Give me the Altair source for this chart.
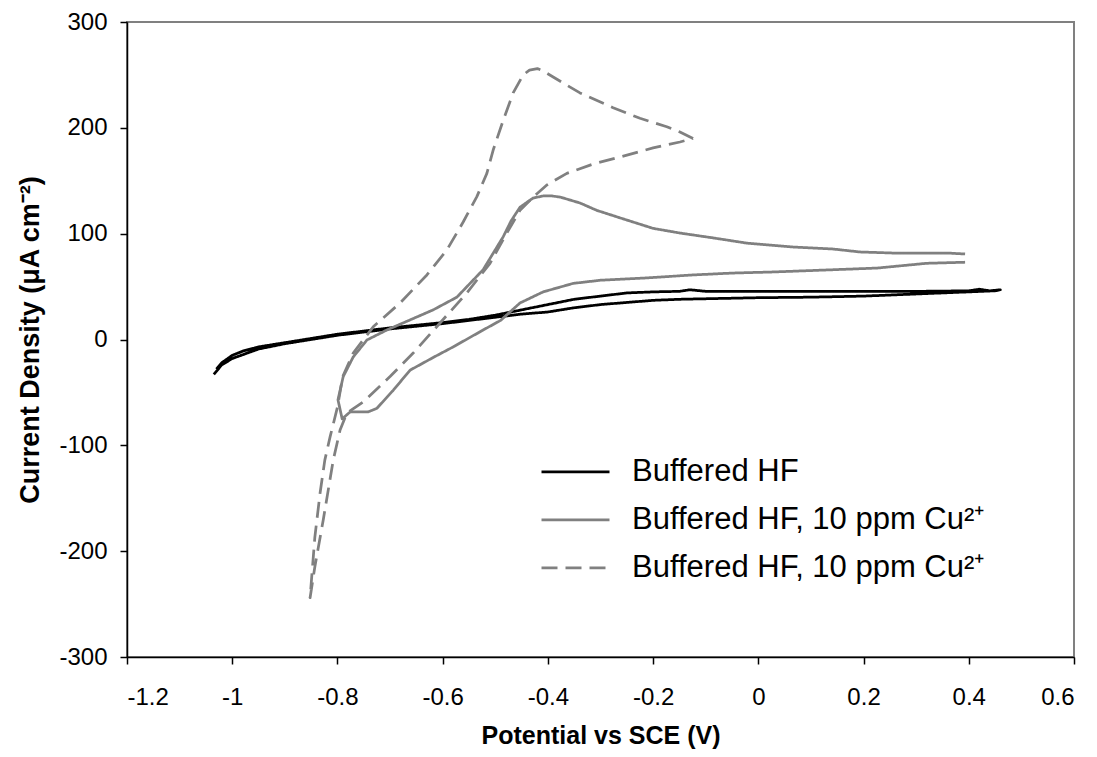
import altair as alt
import pandas as pd

# ---- data ----
series_names = ["Buffered HF", "Buffered HF, 10 ppm Cu²⁺", "Buffered HF, 10 ppm Cu²⁺ "]

bhf_v = [-1.035, -1.02, -1.0, -0.95, -0.9, -0.85, -0.8, -0.75, -0.7, -0.65, -0.6, -0.55, -0.5,
         -0.45, -0.4, -0.35, -0.3, -0.25, -0.2, -0.15, -0.1, -0.05, 0.0, 0.1, 0.2, 0.3, 0.35,
         0.4, 0.45, 0.46,
         0.44, 0.42, 0.4, 0.3, 0.2, 0.1, 0.0, -0.1, -0.13, -0.15, -0.2, -0.25, -0.3, -0.35,
         -0.4, -0.45, -0.5, -0.55, -0.6, -0.65, -0.7, -0.75, -0.8, -0.85, -0.9, -0.95, -0.98,
         -1.0, -1.02, -1.03]
bhf_i = [-33, -24, -18, -9, -4, 0, 4, 7, 10, 12.5, 15, 18, 21,
         24, 26, 30, 33, 35, 37, 38, 38.5, 39, 39.5, 40, 41, 43, 44,
         45, 46, 47,
         46, 47.5, 46, 45.5, 45.5, 45.5, 45.5, 45.5, 47, 45.5, 45, 44, 41, 38,
         33, 28, 23, 19, 16, 13.5, 11, 8, 5, 1, -3, -7, -11,
         -15, -22, -28]

# solid Cu curve: starts at upper-right end, runs left through the peak,
# down to the hook, then back right along the lower branch
cu_v = [0.393, 0.359, 0.256, 0.193, 0.142, 0.066, -0.021, -0.086, -0.149, -0.2, -0.257,
        -0.307, -0.339, -0.377, -0.395, -0.409, -0.428, -0.453, -0.47, -0.485, -0.523, -0.573,
        -0.618, -0.662, -0.706, -0.744, -0.77, -0.789, -0.799,
        -0.791, -0.776, -0.742, -0.725, -0.694, -0.662, -0.618, -0.58, -0.523, -0.49, -0.453,
        -0.409, -0.352, -0.30, -0.219, -0.124, -0.048, 0.028, 0.13, 0.226, 0.32, 0.393]
cu_i = [80.8, 81.7, 81.7, 82.7, 85.5, 87.4, 91, 96, 100.6, 105, 114,
        122, 129, 134.6, 135.8, 135.6, 133.7, 125, 112, 97, 66, 40,
        28, 18.5, 9, -0.5, -16.5, -35, -57,
        -75, -68.5, -68.5, -65, -48, -29, -17, -7, 9, 18, 34.5,
        45, 53, 56, 58, 61, 62.8, 63.8, 65.7, 67.5, 72, 73]

cu2_v = [-0.124, -0.149, -0.174, -0.225, -0.276, -0.339, -0.39, -0.41, -0.42, -0.435, -0.447,
         -0.466, -0.485, -0.504, -0.516, -0.535, -0.561, -0.592, -0.63, -0.681, -0.732, -0.77,
         -0.79, -0.8, -0.814, -0.824, -0.833, -0.843, -0.852,
         -0.843, -0.827, -0.808, -0.795, -0.782, -0.751, -0.7, -0.656, -0.605, -0.554, -0.51,
         -0.478, -0.453, -0.428, -0.402, -0.364, -0.314, -0.263, -0.2, -0.149, -0.124]
cu2_i = [190, 196, 201, 209, 219, 233, 248, 254, 256, 254.5, 250,
         233, 207, 179, 157, 135, 111, 84.6, 61, 34.5, 12, -12.8,
         -35, -64, -92, -114, -145, -187, -244,
         -215, -170.5, -114, -85.5, -69.5, -59, -35, -12.8, 15.6, 44, 72,
         100.6, 122, 134.6, 146, 157, 165.8, 172.4, 181, 186.6, 190]

x_ticks = [-1.2, -1.0, -0.8, -0.6, -0.4, -0.2, 0.0, 0.2, 0.4, 0.6]
y_ticks = [-300, -200, -100, 0, 100, 200, 300]

rows = []
for name, vs, cs in zip(series_names, [bhf_v, cu_v, cu2_v], [bhf_i, cu_i, cu2_i]):
    for k, (v, c) in enumerate(zip(vs, cs)):
        rows.append({"series": name, "V": v, "I": c, "idx": k})
df = pd.DataFrame(rows)

FONT = "Liberation Sans"

chart = alt.Chart(df).mark_line(strokeWidth=2.75, strokeJoin="round", strokeCap="butt").encode(
    x=alt.X("V:Q", scale=alt.Scale(domain=[-1.2, 0.6], nice=False, zero=False),
            axis=alt.Axis(values=x_ticks, title="Potential vs SCE (V)",
                          labelExpr="'' + datum.value", titleY=66, grid=False,
                          titleFontSize=25)),
    y=alt.Y("I:Q", scale=alt.Scale(domain=[-300, 300], nice=False),
            axis=alt.Axis(values=y_ticks, title="Current Density (μA cm⁻²)",
                          labelExpr="'' + datum.value", titleX=-83, grid=False,
                          titleFontSize=27)),
    color=alt.Color("series:N",
                    scale=alt.Scale(domain=series_names, range=["#000000", "#808080", "#808080"]),
                    legend=alt.Legend(title=None, orient="none", legendX=413, legendY=426,
                                      symbolType="stroke", symbolSize=4624,
                                      symbolStrokeWidth=2.75, rowPadding=0, clipHeight=47.5,
                                      labelOffset=21, labelFontSize=31, labelFont=FONT,
                                      labelColor="#000000", labelLimit=600, padding=0)),
    strokeDash=alt.StrokeDash("series:N",
                              scale=alt.Scale(domain=series_names,
                                              range=[[1, 0], [1, 0], [16, 8]]),
                              legend=None),
    order=alt.Order("idx:Q"),
    detail="series:N",
).properties(
    width=947, height=635,
    autosize=alt.AutoSizeParams(type="none"),
    padding={"left": 127, "top": 22, "right": 23, "bottom": 100},
    background="white",
).configure_view(
    stroke="#808080", strokeWidth=2
).configure_axis(
    grid=False,
    domainColor="#000000", domainWidth=1.5,
    tickColor="#000000", tickSize=7, tickWidth=1.5,
    labelFont=FONT, labelFontSize=24, labelColor="#000000",
    titleFont=FONT, titleFontWeight="bold", titleColor="#000000",
).configure_axisX(
    labelPadding=21
).configure_axisY(
    labelPadding=13
)

chart.save("out.html", embed_options={"renderer": "svg", "actions": False})
